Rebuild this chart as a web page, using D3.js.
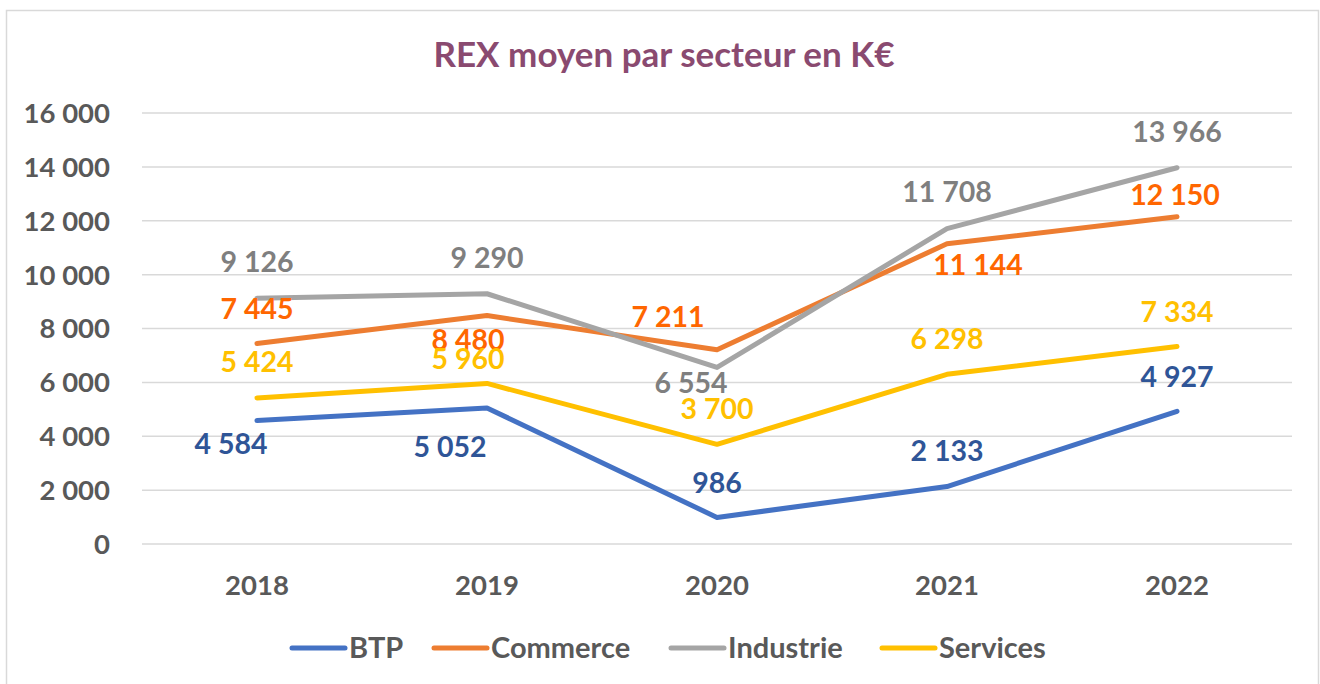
<!DOCTYPE html>
<meta charset="utf-8">
<style>
body { margin: 0; background: #fff; }
svg { font-family: Lato, "Open Sans", sans-serif; font-weight: bold; }
.grid line { stroke: #d9d9d9; stroke-width: 1.5; }
.tick-label { fill: #595959; }
</style>
<body>
<svg width="1320" height="684"></svg>
<script src="https://d3js.org/d3.v7.min.js"></script>
<script>
var years = ["2018", "2019", "2020", "2021", "2022"];
var seriesNames = ["BTP", "Commerce", "Industrie", "Services"];
var btp = [4584, 5052, 986, 2133, 4927];
var commerce = [7445, 8480, 7211, 11144, 12150];
var industrie = [9126, 9290, 6554, 11708, 13966];
var services = [5424, 5960, 3700, 6298, 7334];
var yTicks = [0, 2000, 4000, 6000, 8000, 10000, 12000, 14000, 16000];

// line colour, label colour
var lineColors = ["#4472c4", "#ed7d31", "#a5a5a5", "#ffc000"];
var labelColors = ["#2f5597", "#ff6600", "#7f7f7f", "#ffc000"];

// hand-placed label offsets (px from the point), as in the original
var labelOffsets = [
  [[-26, 23], [-37, 39], [0, -35], [0, -36], [0, -35]],
  [[0, -35], [-19, 24], [-49, -33], [31, 21], [-2, -22]],
  [[0, -36], [0, -36], [-26, 15], [0, -37], [0, -36]],
  [[0, -36], [-19, -25], [0, -36], [0, -36], [0, -35]]
];

var values = [btp, commerce, industrie, services];

var svg = d3.select("svg");

var fr = d3.formatLocale({ decimal: ",", thousands: " ", grouping: [3], currency: ["", " €"] });
var fmt = fr.format(",");

// chart border
svg.append("rect")
    .attr("x", 6.5).attr("y", 10.5)
    .attr("width", 1312).attr("height", 690)
    .attr("fill", "none")
    .attr("stroke", "#d9d9d9")
    .attr("stroke-width", 1.5);

var x = d3.scaleBand().domain(years).range([142, 1292]);
var y = d3.scaleLinear().domain([0, 16000]).range([544, 113]);

// title
svg.append("text")
    .attr("x", 664).attr("y", 67)
    .attr("text-anchor", "middle")
    .attr("fill", "#8a4a70")
    .style("font-size", "35px")
    .text("REX moyen par secteur en K€");

// gridlines
svg.append("g").attr("class", "grid")
  .selectAll("line").data(yTicks).enter().append("line")
    .attr("x1", 142).attr("x2", 1292)
    .attr("y1", function(d) { return y(d); })
    .attr("y2", function(d) { return y(d); });

// y tick labels
svg.append("g")
  .selectAll("text").data(yTicks).enter().append("text")
    .attr("class", "tick-label")
    .attr("x", 110)
    .attr("y", function(d) { return y(d); })
    .attr("dy", "0.36em")
    .attr("text-anchor", "end")
    .style("font-size", "27.5px")
    .text(function(d) { return fmt(d); });

// x labels
svg.append("g")
  .selectAll("text").data(years).enter().append("text")
    .attr("class", "tick-label")
    .attr("x", function(d) { return x(d) + x.bandwidth() / 2; })
    .attr("y", 585)
    .attr("dy", "0.36em")
    .attr("text-anchor", "middle")
    .style("font-size", "27.5px")
    .text(function(d) { return d; });

var line = d3.line()
    .x(function(d, i) { return x(years[i]) + x.bandwidth() / 2; })
    .y(function(d) { return y(d); });

svg.append("g")
  .selectAll("path").data(values).enter().append("path")
    .attr("d", line)
    .attr("fill", "none")
    .attr("stroke", function(d, i) { return lineColors[i]; })
    .attr("stroke-width", 5)
    .attr("stroke-linecap", "round")
    .attr("stroke-linejoin", "round");

// data labels
values.forEach(function(vals, s) {
  svg.append("g")
    .selectAll("text").data(vals).enter().append("text")
      .attr("x", function(d, i) { return x(years[i]) + x.bandwidth() / 2 + labelOffsets[s][i][0]; })
      .attr("y", function(d, i) { return y(d) + labelOffsets[s][i][1]; })
      .attr("dy", "0.36em")
      .attr("text-anchor", "middle")
      .attr("fill", labelColors[s])
      .style("font-size", "28.5px")
      .text(function(d) { return fmt(d); });
});

// legend
var legendX = [290, 432, 669, 880];
var legend = svg.append("g")
  .selectAll("g").data(seriesNames).enter().append("g")
    .attr("transform", function(d, i) { return "translate(" + legendX[i] + ",648)"; });
legend.append("line")
    .attr("x1", 2).attr("x2", 55)
    .attr("stroke", function(d, i) { return lineColors[i]; })
    .attr("stroke-width", 5)
    .attr("stroke-linecap", "round");
legend.append("text")
    .attr("x", 59)
    .attr("dy", "0.36em")
    .attr("class", "tick-label")
    .style("font-size", "29px")
    .text(function(d) { return d; });
</script>
</body>
